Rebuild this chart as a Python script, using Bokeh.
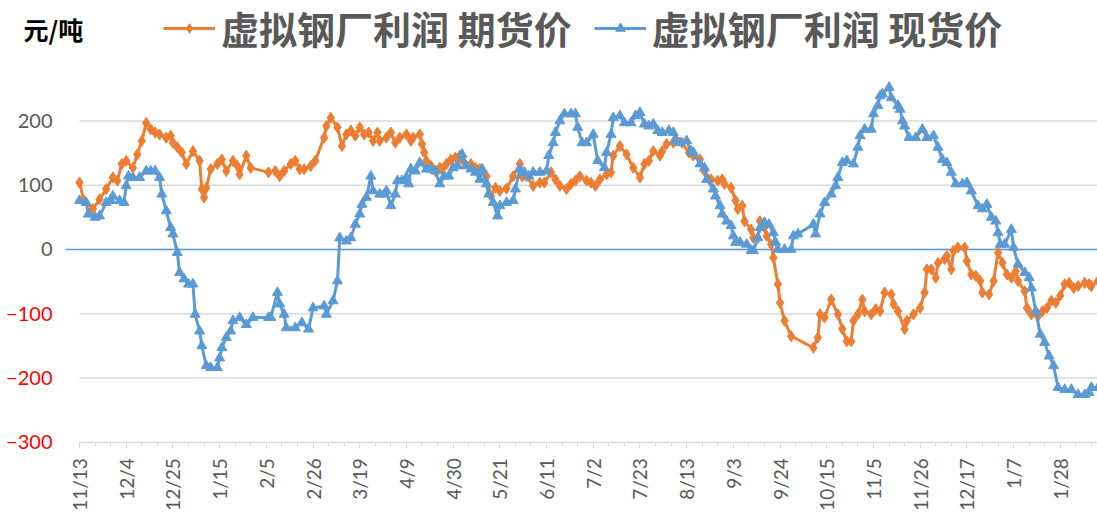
import math
import pandas as pd
from bokeh.plotting import figure
from bokeh.models import (Range1d, FixedTicker, LinearAxis, Legend, LegendItem,
                          Label, CustomJSTickFormatter, ColumnDataSource)
from bokeh.embed import file_html
from bokeh.resources import INLINE

# ---------------- data ----------------
futures_dates = [
    "2018-11-13", "2018-11-15", "2018-11-19", "2018-11-22", "2018-11-25", "2018-11-28", "2018-11-30", "2018-12-02", "2018-12-04", "2018-12-07",
    "2018-12-09", "2018-12-11", "2018-12-13", "2018-12-15", "2018-12-17", "2018-12-19", "2018-12-22", "2018-12-24", "2018-12-25", "2018-12-27",
    "2018-12-29", "2018-12-31", "2019-01-03", "2019-01-06", "2019-01-07", "2019-01-08", "2019-01-09", "2019-01-11", "2019-01-14", "2019-01-16",
    "2019-01-18", "2019-01-21", "2019-01-23", "2019-01-24", "2019-01-27", "2019-01-29", "2019-02-06", "2019-02-09", "2019-02-11", "2019-02-13",
    "2019-02-16", "2019-02-18", "2019-02-20", "2019-02-22", "2019-02-25", "2019-02-27", "2019-03-03", "2019-03-04", "2019-03-06", "2019-03-09",
    "2019-03-11", "2019-03-13", "2019-03-15", "2019-03-17", "2019-03-19", "2019-03-21", "2019-03-23", "2019-03-25", "2019-03-27", "2019-03-28",
    "2019-03-31", "2019-04-02", "2019-04-04", "2019-04-06", "2019-04-09", "2019-04-11", "2019-04-12", "2019-04-15", "2019-04-16", "2019-04-17",
    "2019-04-18", "2019-04-20", "2019-04-22", "2019-04-24", "2019-04-25", "2019-04-27", "2019-04-29", "2019-05-01", "2019-05-03", "2019-05-05",
    "2019-05-08", "2019-05-10", "2019-05-12", "2019-05-15", "2019-05-17", "2019-05-19", "2019-05-21", "2019-05-24", "2019-05-27", "2019-05-30",
    "2019-05-31", "2019-06-02", "2019-06-05", "2019-06-08", "2019-06-10", "2019-06-13", "2019-06-15", "2019-06-17", "2019-06-20", "2019-06-22",
    "2019-06-24", "2019-06-26", "2019-06-29", "2019-07-01", "2019-07-03", "2019-07-05", "2019-07-08", "2019-07-10", "2019-07-11", "2019-07-14",
    "2019-07-17", "2019-07-20", "2019-07-23", "2019-07-25", "2019-07-27", "2019-07-29", "2019-08-01", "2019-08-02", "2019-08-04", "2019-08-07",
    "2019-08-08", "2019-08-11", "2019-08-14", "2019-08-16", "2019-08-19", "2019-08-21", "2019-08-24", "2019-08-27", "2019-08-29", "2019-08-30",
    "2019-09-02", "2019-09-04", "2019-09-05", "2019-09-07", "2019-09-08", "2019-09-11", "2019-09-12", "2019-09-14", "2019-09-15", "2019-09-17",
    "2019-09-18", "2019-09-20", "2019-09-21", "2019-09-23", "2019-09-24", "2019-09-26", "2019-09-29", "2019-10-09", "2019-10-11", "2019-10-12",
    "2019-10-14", "2019-10-17", "2019-10-20", "2019-10-22", "2019-10-24", "2019-10-26", "2019-10-27", "2019-10-29", "2019-10-31", "2019-11-01",
    "2019-11-04", "2019-11-06", "2019-11-08", "2019-11-10", "2019-11-13", "2019-11-14", "2019-11-16", "2019-11-19", "2019-11-20", "2019-11-23",
    "2019-11-26", "2019-11-28", "2019-11-29", "2019-12-01", "2019-12-03", "2019-12-04", "2019-12-07", "2019-12-08", "2019-12-10", "2019-12-11",
    "2019-12-13", "2019-12-16", "2019-12-17", "2019-12-19", "2019-12-21", "2019-12-23", "2019-12-24", "2019-12-27", "2019-12-29", "2019-12-31",
    "2020-01-02", "2020-01-04", "2020-01-06", "2020-01-08", "2020-01-09", "2020-01-12", "2020-01-13", "2020-01-15", "2020-01-18", "2020-01-20",
    "2020-01-22", "2020-01-24", "2020-01-26", "2020-01-28", "2020-01-30", "2020-02-01", "2020-02-03", "2020-02-05", "2020-02-08", "2020-02-10",
    "2020-02-11", "2020-02-14",
]
futures_values = [
    104, 76, 63, 78, 94, 112, 107, 133, 138, 127,
    148, 169, 197, 187, 182, 179, 174, 177, 166, 159,
    151, 133, 153, 138, 94, 81, 96, 125, 133, 140,
    122, 138, 130, 117, 146, 127, 120, 122, 114, 122,
    133, 138, 125, 125, 130, 138, 174, 192, 205, 190,
    161, 179, 185, 177, 190, 179, 182, 169, 182, 169,
    174, 182, 166, 174, 179, 169, 174, 179, 164, 151,
    138, 130, 122, 127, 125, 133, 140, 143, 146, 135,
    133, 127, 125, 114, 83, 96, 91, 95, 114, 133,
    114, 114, 99, 104, 104, 120, 109, 99, 94, 102,
    107, 114, 107, 104, 99, 109, 117, 120, 146, 161,
    148, 127, 112, 133, 138, 153, 146, 153, 164, 166,
    172, 166, 151, 146, 140, 122, 109, 107, 109, 102,
    96, 76, 63, 68, 44, 31, 18, 18, 44, 34,
    21, 8, -13, -54, -83, -111, -135, -153, -137, -101,
    -106, -78, -101, -124, -143, -143, -111, -101, -78, -96,
    -101, -93, -96, -67, -70, -85, -96, -124, -111, -101,
    -91, -67, -31, -31, -44, -21, -15, -10, -31, -2,
    3, 3, -18, -39, -41, -49, -67, -70, -49, -5,
    -21, -39, -44, -34, -49, -65, -91, -101, -104, -96,
    -91, -80, -83, -72, -54, -52, -60, -57, -52, -54,
    -57, -49,
]

spot_dates = [
    "2018-11-13", "2018-11-16", "2018-11-17", "2018-11-20", "2018-11-22", "2018-11-25", "2018-11-27", "2018-11-28", "2018-12-01", "2018-12-03",
    "2018-12-04", "2018-12-05", "2018-12-07", "2018-12-10", "2018-12-13", "2018-12-15", "2018-12-17", "2018-12-19", "2018-12-20", "2018-12-22",
    "2018-12-24", "2018-12-25", "2018-12-27", "2018-12-28", "2018-12-30", "2019-01-01", "2019-01-03", "2019-01-04", "2019-01-06", "2019-01-07",
    "2019-01-09", "2019-01-11", "2019-01-14", "2019-01-15", "2019-01-16", "2019-01-18", "2019-01-20", "2019-01-21", "2019-01-24", "2019-01-27",
    "2019-01-30", "2019-02-06", "2019-02-07", "2019-02-10", "2019-02-11", "2019-02-13", "2019-02-14", "2019-02-18", "2019-02-21", "2019-02-24",
    "2019-02-26", "2019-03-03", "2019-03-04", "2019-03-07", "2019-03-09", "2019-03-10", "2019-03-13", "2019-03-15", "2019-03-17", "2019-03-19",
    "2019-03-20", "2019-03-22", "2019-03-24", "2019-03-25", "2019-03-28", "2019-03-30", "2019-03-31", "2019-04-02", "2019-04-04", "2019-04-05",
    "2019-04-07", "2019-04-09", "2019-04-10", "2019-04-11", "2019-04-13", "2019-04-15", "2019-04-18", "2019-04-20", "2019-04-22", "2019-04-24",
    "2019-04-26", "2019-04-28", "2019-04-30", "2019-05-02", "2019-05-04", "2019-05-06", "2019-05-08", "2019-05-10", "2019-05-12", "2019-05-13",
    "2019-05-15", "2019-05-16", "2019-05-18", "2019-05-20", "2019-05-21", "2019-05-24", "2019-05-27", "2019-05-28", "2019-05-30", "2019-06-01",
    "2019-06-03", "2019-06-05", "2019-06-08", "2019-06-11", "2019-06-12", "2019-06-14", "2019-06-15", "2019-06-17", "2019-06-19", "2019-06-22",
    "2019-06-24", "2019-06-25", "2019-06-27", "2019-06-29", "2019-07-02", "2019-07-04", "2019-07-07", "2019-07-08", "2019-07-10", "2019-07-11",
    "2019-07-14", "2019-07-16", "2019-07-19", "2019-07-21", "2019-07-23", "2019-07-25", "2019-07-27", "2019-07-29", "2019-07-31", "2019-08-02",
    "2019-08-05", "2019-08-07", "2019-08-08", "2019-08-10", "2019-08-13", "2019-08-15", "2019-08-16", "2019-08-19", "2019-08-21", "2019-08-22",
    "2019-08-25", "2019-08-26", "2019-08-28", "2019-08-29", "2019-08-31", "2019-09-02", "2019-09-03", "2019-09-04", "2019-09-06", "2019-09-09",
    "2019-09-11", "2019-09-12", "2019-09-14", "2019-09-15", "2019-09-17", "2019-09-19", "2019-09-21", "2019-09-22", "2019-09-23", "2019-09-26",
    "2019-09-29", "2019-09-30", "2019-10-02", "2019-10-09", "2019-10-10", "2019-10-12", "2019-10-14", "2019-10-17", "2019-10-19", "2019-10-20",
    "2019-10-22", "2019-10-24", "2019-10-27", "2019-10-29", "2019-10-30", "2019-11-01", "2019-11-04", "2019-11-05", "2019-11-07", "2019-11-08",
    "2019-11-09", "2019-11-12", "2019-11-13", "2019-11-16", "2019-11-17", "2019-11-18", "2019-11-19", "2019-11-21", "2019-11-24", "2019-11-27",
    "2019-11-29", "2019-12-02", "2019-12-04", "2019-12-06", "2019-12-08", "2019-12-10", "2019-12-12", "2019-12-15", "2019-12-17", "2019-12-19",
    "2019-12-22", "2019-12-24", "2019-12-26", "2019-12-28", "2019-12-30", "2019-12-31", "2020-01-01", "2020-01-03", "2020-01-06", "2020-01-07",
    "2020-01-09", "2020-01-12", "2020-01-14", "2020-01-15", "2020-01-17", "2020-01-19", "2020-01-21", "2020-01-23", "2020-01-25", "2020-01-27",
    "2020-01-30", "2020-02-02", "2020-02-05", "2020-02-08", "2020-02-10", "2020-02-11", "2020-02-14",
]
spot_values = [
    76, 73, 55, 50, 52, 73, 76, 83, 76, 73,
    99, 114, 112, 112, 122, 122, 122, 112, 86, 60,
    34, 24, -5, -36, -46, -54, -54, -101, -127, -150,
    -181, -184, -184, -169, -153, -137, -127, -111, -106, -117,
    -106, -106, -106, -67, -85, -101, -122, -122, -114, -124,
    -91, -88, -101, -80, -49, 18, 13, 18, 39, 55,
    70, 81, 114, 91, 86, 86, 91, 68, 86, 107,
    107, 112, 102, 125, 122, 135, 125, 125, 122, 102,
    114, 114, 127, 130, 148, 130, 125, 120, 109, 125,
    102, 86, 73, 52, 68, 73, 76, 94, 125, 120,
    114, 120, 120, 122, 146, 166, 182, 200, 211, 211,
    211, 190, 166, 166, 179, 138, 127, 151, 179, 205,
    208, 197, 197, 208, 213, 195, 192, 195, 185, 182,
    185, 182, 169, 166, 169, 153, 151, 133, 127, 109,
    94, 83, 68, 55, 44, 37, 21, 11, 11, 8,
    -2, -2, 18, 34, 42, 39, 26, 11, 0, 0,
    0, 21, 24, 39, 24, 55, 73, 86, 99, 112,
    135, 138, 133, 159, 177, 187, 187, 211, 224, 239,
    242, 252, 236, 224, 218, 200, 192, 174, 174, 187,
    174, 177, 159, 140, 135, 120, 102, 102, 104, 91,
    68, 63, 70, 50, 44, 26, 8, 8, 31, 3,
    -23, -36, -44, -60, -96, -132, -145, -166, -181, -215,
    -218, -218, -226, -226, -223, -215, -215,
]

series_names = ["虚拟钢厂利润 期货价", "虚拟钢厂利润 现货价"]
unit_label = "元/吨"

x_tick_dates = [
    "2018-11-13", "2018-12-04", "2018-12-25", "2019-01-15", "2019-02-05", "2019-02-26",
    "2019-03-19", "2019-04-09", "2019-04-30", "2019-05-21", "2019-06-11", "2019-07-02",
    "2019-07-23", "2019-08-13", "2019-09-03", "2019-09-24", "2019-10-15", "2019-11-05",
    "2019-11-26", "2019-12-17", "2020-01-07", "2020-01-28",
]
y_ticks_positive = [0, 100, 200]
y_ticks_negative = [-300, -200, -100]
y_grid_ticks = [-200, -100, 0, 100, 200]
y_axis_bottom = -300
zero_level = [0]

# ---------------- figure ----------------
ORANGE = "#ED7D31"
BLUE = "#5B9BD5"
GREY_TXT = "#595959"
GRID = "#D9D9D9"

W, H = 1097, 516
PX_PER_DAY = 2.224      # horizontal scale of the reference
PX_PER_UNIT = 0.6425    # vertical scale of the reference
AXIS_LEFT_PX = 79       # where the first date tick sits
AXIS_BOTTOM_PX = 441.7  # where the -300 line sits

axis_start = pd.Timestamp(x_tick_dates[0])
view_start = axis_start - pd.Timedelta(days=AXIS_LEFT_PX / PX_PER_DAY)
view_end = view_start + pd.Timedelta(days=W / PX_PER_DAY)
zero_start = axis_start - pd.Timedelta(days=14 / PX_PER_DAY)
y_top = y_axis_bottom + AXIS_BOTTOM_PX / PX_PER_UNIT
y_bottom = y_top - H / PX_PER_UNIT

def to_ms(d):
    return pd.Timestamp(d).value // 10**6

p = figure(width=W, height=H, x_axis_type="datetime",
           x_range=Range1d(view_start.to_pydatetime(), view_end.to_pydatetime()),
           y_range=Range1d(y_bottom, y_top),
           output_backend="svg", toolbar_location=None,
           min_border_left=0, min_border_right=0, min_border_top=0, min_border_bottom=0)
p.outline_line_color = None
p.background_fill_color = "white"
p.border_fill_color = "white"

major_ms = [to_ms(d) for d in x_tick_dates]
minor_ms = [to_ms(d) for d in pd.date_range(axis_start, view_end, freq="7D")]

xa = p.xaxis[0]
xa.fixed_location = y_axis_bottom
xa.ticker = FixedTicker(ticks=major_ms, minor_ticks=minor_ms)
xa.bounds = (to_ms(axis_start), to_ms(view_end))
xa.formatter = CustomJSTickFormatter(code="""
const d = new Date(tick);
return (d.getUTCMonth() + 1) + "/" + d.getUTCDate();
""")
xa.axis_line_color = GRID
xa.axis_line_width = 1.5
xa.major_tick_line_color = GRID
xa.minor_tick_line_color = GRID
xa.major_tick_out = 6
xa.major_tick_in = 0
xa.minor_tick_out = 4
xa.minor_tick_in = 0
xa.major_label_orientation = math.pi / 2
xa.major_label_text_font = "Lato"
xa.major_label_text_font_size = "19px"
xa.major_label_text_color = GREY_TXT
xa.major_label_standoff = 10

def style_y(ax, color):
    ax.fixed_location = to_ms(axis_start)
    ax.axis_line_color = None
    ax.major_tick_line_color = None
    ax.minor_tick_line_color = None
    ax.major_tick_out = 0
    ax.major_tick_in = 0
    ax.major_label_standoff = 27
    ax.major_label_text_font = "Lato"
    ax.major_label_text_font_size = "20px"
    ax.major_label_text_color = color

ya = p.yaxis[0]
ya.ticker = FixedTicker(ticks=y_ticks_positive)
style_y(ya, GREY_TXT)

ya2 = LinearAxis(ticker=FixedTicker(ticks=y_ticks_negative))
style_y(ya2, "#FF0000")
p.add_layout(ya2, "left")

p.xgrid.visible = False
p.ygrid.visible = False

# horizontal gridlines starting at the first date tick (as in the reference)
grid_src = ColumnDataSource(dict(
    x0=[axis_start] * len(y_grid_ticks), x1=[view_end] * len(y_grid_ticks),
    y=y_grid_ticks))
p.segment(x0="x0", x1="x1", y0="y", y1="y", source=grid_src,
          line_color=GRID, line_width=1.5, level="underlay")

zero_src = ColumnDataSource(dict(x0=[zero_start], x1=[view_end], y=zero_level))
p.segment(x0="x0", x1="x1", y0="y", y1="y", source=zero_src,
          line_color=BLUE, line_width=1.5, level="underlay")

fsrc = ColumnDataSource(dict(date=pd.to_datetime(futures_dates), value=futures_values))
ssrc = ColumnDataSource(dict(date=pd.to_datetime(spot_dates), value=spot_values))

fl = p.line("date", "value", source=fsrc, line_color=ORANGE, line_width=3)
fs = p.scatter("date", "value", source=fsrc, marker="diamond", size=11,
               fill_color=ORANGE, line_color=ORANGE)
sl = p.line("date", "value", source=ssrc, line_color=BLUE, line_width=3)
ss = p.scatter("date", "value", source=ssrc, marker="triangle", size=10,
               fill_color=BLUE, line_color=BLUE)

legend = Legend(items=[LegendItem(label=series_names[0], renderers=[fl, fs]),
                       LegendItem(label=series_names[1], renderers=[sl, ss])],
                location=(163, H - 55), orientation="horizontal",
                label_text_font="Noto Sans CJK SC", label_text_font_style="bold",
                label_text_font_size="38px", label_text_color=GREY_TXT,
                glyph_width=52, glyph_height=24, label_standoff=6, spacing=22,
                padding=0, margin=0, border_line_alpha=0, background_fill_alpha=0)
p.add_layout(legend)

unit = Label(x=23, y=H - 28, x_units="screen", y_units="screen", text=unit_label,
             text_font="Noto Sans CJK SC", text_font_style="bold", text_font_size="25px",
             text_color="black", text_baseline="middle", text_align="left")
p.add_layout(unit)

open("out.html", "w").write(file_html(p, INLINE))
